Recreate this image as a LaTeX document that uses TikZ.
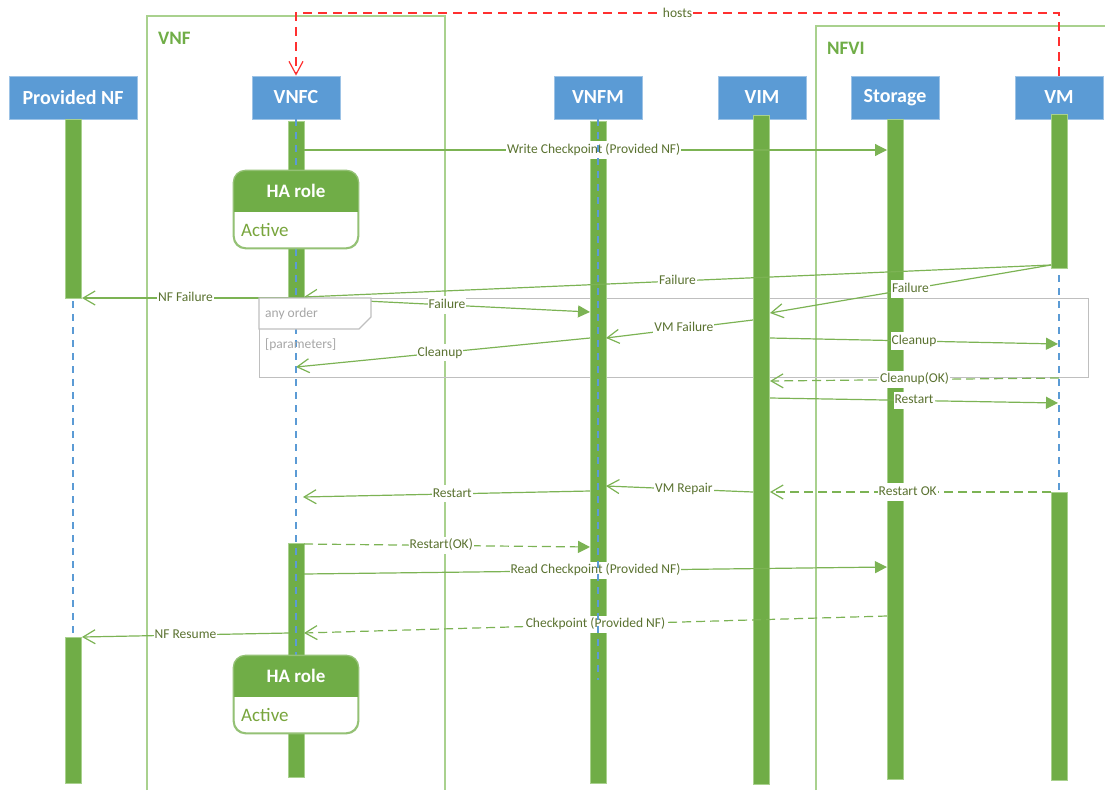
\documentclass[tikz,border=0pt]{standalone}
\usepackage{fontspec}
\setmainfont{Carlito}
\usetikzlibrary{arrows.meta}

\definecolor{hdrblue}{HTML}{5B9BD5}
\definecolor{hdredge}{HTML}{9DC3E6}
\definecolor{actgreen}{HTML}{70AD47}
\definecolor{framegreen}{HTML}{A9D18E}
\definecolor{msggreen}{HTML}{7CB354}
\definecolor{lbltext}{HTML}{5A7230}
\definecolor{statetext}{HTML}{78A53C}
\definecolor{fraggray}{HTML}{BFBFBF}
\definecolor{fragtext}{HTML}{A6A6A6}
\definecolor{hostred}{HTML}{FF3030}

\begin{document}
\begin{tikzpicture}[x=1pt,y=-1pt,
  hdr/.style={fill=hdrblue, draw=hdredge, line width=0.8pt, text=white,
    font=\bfseries\fontsize{20}{22}\selectfont, minimum height=43pt, inner sep=0pt},
  actbar/.style={fill=actgreen, draw=framegreen, line width=0.6pt,
    minimum width=16pt, inner sep=0pt, anchor=north},
  lifeline/.style={draw=hdrblue, line width=1.1pt, dash pattern=on 7pt off 6pt},
  frameline/.style={draw=framegreen, line width=1.5pt},
  frametitle/.style={text=actgreen, font=\bfseries\fontsize{19}{21}\selectfont, anchor=west, inner sep=0pt},
  msg/.style={draw=msggreen, line width=1.2pt},
  reply/.style={msg, dash pattern=on 9pt off 5pt},
  sync/.style={-{Triangle[length=12pt,width=12pt]}},
  async/.style={-{Straight Barb[length=12pt,width=14pt]}},
  lbl/.style={fill=white, text=lbltext, font=\fontsize{13.5}{15}\selectfont,
    inner xsep=1pt, inner ysep=1.8pt, text height=10pt, text depth=3.5pt},
  hostline/.style={draw=hostred, line width=1.2pt, dash pattern=on 9pt off 6pt},
  fragtxt/.style={text=fragtext, font=\fontsize{13.5}{15}\selectfont, anchor=west, inner sep=0pt},
  habox/.style={draw=actgreen!75!white, line width=1.3pt, fill=white, rounded corners=12pt,
    minimum width=124pt, minimum height=77pt, inner sep=0pt},
  hatitle/.style={text=white, font=\bfseries\fontsize{19}{21}\selectfont, inner sep=0pt},
  hastate/.style={text=statetext, font=\fontsize{19}{21}\selectfont, anchor=west, inner sep=0pt},
]
\useasboundingbox (0,0) rectangle (1105,790);

% ---- grouping frames ----
\draw[frameline] (147,790) -- (147,16) -- (445,16) -- (445,790);
\node[frametitle] (vnf-title) at (158,38) {VNF};
\draw[frameline] (816,790) -- (816,26) -- (1105,26);
\node[frametitle] (nfvi-title) at (827,48) {NFVI};

% ---- participants ----
\node[hdr, minimum width=128pt] (pnf)  at (73,97.5)   {Provided NF};
\node[hdr, minimum width=88pt]  (vnfc) at (296,97.5)  {VNFC};
\node[hdr, minimum width=88pt]  (vnfm) at (598,97.5)  {VNFM};
\node[hdr, minimum width=88pt]  (vim)  at (762,97.5)  {VIM};
\node[hdr, minimum width=88pt]  (sto)  at (895,97.5)  {Storage};
\node[hdr, minimum width=88pt]  (vm)   at (1059,97.5) {VM};

% ---- hosts relation ----
\coordinate (hosts-r) at (1059,13);
\coordinate (hosts-l) at (296,13);
\draw[hostline, -{Straight Barb[length=13pt,width=14pt]}] (vm.north) -- (hosts-r)
  -- node[fill=white, text=lbltext, font=\fontsize{13.5}{15}\selectfont, inner sep=1pt] {hosts} (hosts-l)
  -- (vnfc.north);

% ---- lifelines behind the activation bars ----
\coordinate (pnf-end) at (73,680);
\coordinate (vim-end) at (761,680);
\coordinate (sto-end) at (895,680);
\coordinate (vm-end)  at (1059,680);
\draw[lifeline] (pnf) -- (pnf-end);
\draw[lifeline] (vim) -- (vim-end);
\draw[lifeline] (sto) -- (sto-end);
\draw[lifeline] (vm) -- (vm-end);

% ---- combined fragment ----
\node[draw=fraggray, line width=1.3pt, minimum width=829pt, minimum height=79pt,
      inner sep=0pt, anchor=north west] (frag) at (259,298) {};

% ---- activation bars ----
\node[actbar, minimum height=179pt] (pnf-a1)  at (73,119)   {};
\node[actbar, minimum height=146pt] (pnf-a2)  at (73,637)   {};
\node[actbar, minimum height=177pt] (vnfc-a1) at (296,121)  {};
\node[actbar, minimum height=234pt] (vnfc-a2) at (296,543)  {};
\node[actbar, minimum height=662pt] (vnfm-a1) at (598,121)  {};
\node[actbar, minimum height=669pt] (vim-a1)  at (761,115)  {};
\node[actbar, minimum height=660pt] (sto-a1)  at (895,119)  {};
\node[actbar, minimum height=154pt] (vm-a1)   at (1059,114) {};
\node[actbar, minimum height=288pt] (vm-a2)   at (1059,492) {};

% ---- message end points ----
\coordinate (m1a) at (304,150);   \coordinate (m1b) at (887,150);
\coordinate (m2a) at (1051,265);  \coordinate (m2b) at (304,297);
\coordinate (m3a) at (289,298);   \coordinate (m3b) at (82,298);
\coordinate (m4a) at (1051,265);  \coordinate (m4b) at (770,313);
\coordinate (m5a) at (304,298);   \coordinate (m5b) at (590,312);
\coordinate (m6a) at (753,320);   \coordinate (m6b) at (606,338);
\coordinate (m7a) at (590,338);   \coordinate (m7b) at (296,367);
\coordinate (m8a) at (770,338);   \coordinate (m8b) at (1058,344);
\coordinate (m9a) at (1059,378);  \coordinate (m9b) at (770,381);
\coordinate (m10a) at (770,398);  \coordinate (m10b) at (1058,403);
\coordinate (m11a) at (1051,492); \coordinate (m11b) at (770,492);
\coordinate (m12a) at (753,492);  \coordinate (m12b) at (606,486);
\coordinate (m13a) at (590,491);  \coordinate (m13b) at (303,497);
\coordinate (m14a) at (304,544);  \coordinate (m14b) at (590,547);
\coordinate (m15a) at (304,574);  \coordinate (m15b) at (887,567);
\coordinate (m16a) at (887,616);  \coordinate (m16b) at (304,633);
\coordinate (m17a) at (289,633);  \coordinate (m17b) at (82,637);

% ---- messages ----
\draw[msg, sync]    (m1a)  -- node[lbl, pos=0.497] {Write Checkpoint (Provided NF)} (m1b);
\draw[msg, async]   (m2a)  -- node[lbl, pos=0.50]  {Failure} (m2b);
\draw[msg, async]   (m3a)  -- node[lbl, pos=0.50]  {NF Failure} (m3b);
\draw[msg, async]   (m4a)  -- node[lbl, pos=0.50]  {Failure} (m4b);
\draw[msg, sync]    (m5a)  -- node[lbl, pos=0.50]  {Failure} (m5b);
\draw[msg, async]   (m6a)  -- node[lbl, pos=0.47]  {VM Failure} (m6b);
\draw[msg, async]   (m7a)  -- node[lbl, pos=0.51]  {Cleanup} (m7b);
\draw[msg, sync]    (m8a)  -- node[lbl, pos=0.50]  {Cleanup} (m8b);
\draw[reply, async] (m9a)  -- node[lbl, pos=0.50]  {Cleanup(OK)} (m9b);
\draw[msg, sync]    (m10a) -- node[lbl, pos=0.50]  {Restart} (m10b);
\draw[reply, async] (m11a) -- node[lbl, pos=0.51]  {Restart OK} (m11b);
\draw[msg, async]   (m12a) -- node[lbl, pos=0.47]  {VM Repair} (m12b);
\draw[msg, async]   (m13a) -- node[lbl, pos=0.48]  {Restart} (m13b);
\draw[reply, sync]  (m14a) -- node[lbl, pos=0.48]  {Restart(OK)} (m14b);
\draw[msg, sync]    (m15a) -- node[lbl, pos=0.50]  {Read Checkpoint (Provided NF)} (m15b);
\draw[reply, async] (m16a) -- node[lbl, pos=0.50]  {Checkpoint (Provided NF)} (m16b);
\draw[msg, async]   (m17a) -- node[lbl, pos=0.50]  {NF Resume} (m17b);

% ---- lifelines drawn over the bars ----
\coordinate (vnfc-end) at (296,655);
\coordinate (vnfm-end) at (598,680);
\draw[lifeline] (vnfc) -- (vnfc-end);
\draw[lifeline] (vnfm) -- (vnfm-end);

% ---- fragment heading tab and guard ----
\draw[draw=fraggray, line width=1.3pt, fill=white]
  (frag.north west) -- (371,298) -- (371,317) -- (359,329) -- (259,329) -- cycle;
\node[fragtxt] (frag-kind)  at (265,314) {any order};
\node[fragtxt] (frag-guard) at (265,345) {[parameters]};

% ---- HA role state boxes ----
\node[habox] (ha1) at (296,209.5) {};
\begin{scope}
  \clip (233,170) rectangle (359,211);
  \fill[actgreen, rounded corners=12pt] (ha1.north west) rectangle (ha1.south east);
\end{scope}
\draw[draw=actgreen!75!white, line width=1.3pt, rounded corners=12pt] (ha1.north west) rectangle (ha1.south east);
\node[hatitle] (ha1-title) at (296,191) {HA role};
\node[hastate] (ha1-state) at (241,230) {Active};

\node[habox] (ha2) at (296,694.5) {};
\begin{scope}
  \clip (233,654) rectangle (359,696);
  \fill[actgreen, rounded corners=12pt] (ha2.north west) rectangle (ha2.south east);
\end{scope}
\draw[draw=actgreen!75!white, line width=1.3pt, rounded corners=12pt] (ha2.north west) rectangle (ha2.south east);
\node[hatitle] (ha2-title) at (296,676) {HA role};
\node[hastate] (ha2-state) at (241,715) {Active};

\end{tikzpicture}
\end{document}
